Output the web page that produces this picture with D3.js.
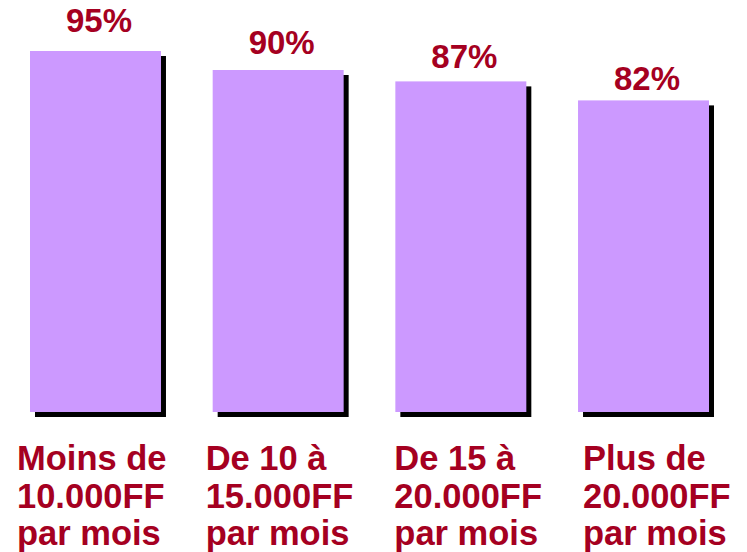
<!DOCTYPE html>
<html>
<head>
<meta charset="utf-8">
<script src="https://cdn.jsdelivr.net/npm/d3@7"></script>
<style>
  body { margin: 0; background: #fff; }
  text { font-family: Arial, "Liberation Sans", sans-serif; font-weight: bold; }
</style>
</head>
<body>
<div class="chart"></div>
<script>
const svgWidth = 747, svgHeight = 552;
const shadowOffset = 5;

// data
var categories = ["Moins de", "De 10 à", "De 15 à", "Plus de"];
var labelLines = [
    ["Moins de", "10.000FF", "par mois"],
    ["De 10 à", "15.000FF", "par mois"],
    ["De 15 à", "20.000FF", "par mois"],
    ["Plus de", "20.000FF", "par mois"]
];
var values = [95, 90, 87, 82];

var data = categories.map(function (c, i) {
    return { cat: c, value: values[i], lines: labelLines[i] };
});

var svg = d3.select(".chart").append("svg")
    .attr("width", svgWidth)
    .attr("height", svgHeight);

var xScale = d3.scaleBand()
    .domain(categories)
    .range([30, 709])
    .paddingInner(0.283)
    .paddingOuter(0);

var yScale = d3.scaleLinear()
    .domain([0, 100])
    .range([412, 32]);

// value labels sit on their own scale (as in the original slide)
var yLabel = d3.scaleLinear()
    .domain([82, 95])
    .range([90, 32]);

// category labels, left aligned
var xLabel = d3.scalePoint()
    .domain(categories)
    .range([17, 583]);

var barGroup = svg.selectAll("g.bar")
    .data(data)
    .enter().append("g")
    .attr("class", "bar");

// shadow
barGroup.append("rect")
    .attr("x", function (d) { return xScale(d.cat) + shadowOffset; })
    .attr("y", function (d) { return yScale(d.value) + shadowOffset; })
    .attr("width", xScale.bandwidth())
    .attr("height", function (d) { return yScale(0) - yScale(d.value); })
    .attr("fill", "#000");

barGroup.append("rect")
    .attr("x", function (d) { return xScale(d.cat); })
    .attr("y", function (d) { return yScale(d.value); })
    .attr("width", xScale.bandwidth())
    .attr("height", function (d) { return yScale(0) - yScale(d.value); })
    .attr("fill", "#CC99FF");

barGroup.append("text")
    .text(function (d) { return d.value + "%"; })
    .attr("x", function (d) { return xScale(d.cat) + xScale.bandwidth() / 2 + 3.5; })
    .attr("y", function (d) { return yLabel(d.value); })
    .style("text-anchor", "middle")
    .style("font-size", "33px")
    .style("fill", "#A50021");

var catText = svg.selectAll("text.cat")
    .data(data)
    .enter().append("text")
    .attr("class", "cat")
    .attr("x", function (d) { return xLabel(d.cat); })
    .attr("y", 470)
    .style("font-size", "34.5px")
    .style("fill", "#A50021");

catText.selectAll("tspan")
    .data(function (d) { return d.lines; })
    .enter().append("tspan")
    .attr("x", function () { return xLabel(d3.select(this.parentNode).datum().cat); })
    .attr("dy", function (d, i) { return i === 0 ? 0 : 37.5; })
    .text(function (d) { return d; });
</script>
</body>
</html>
